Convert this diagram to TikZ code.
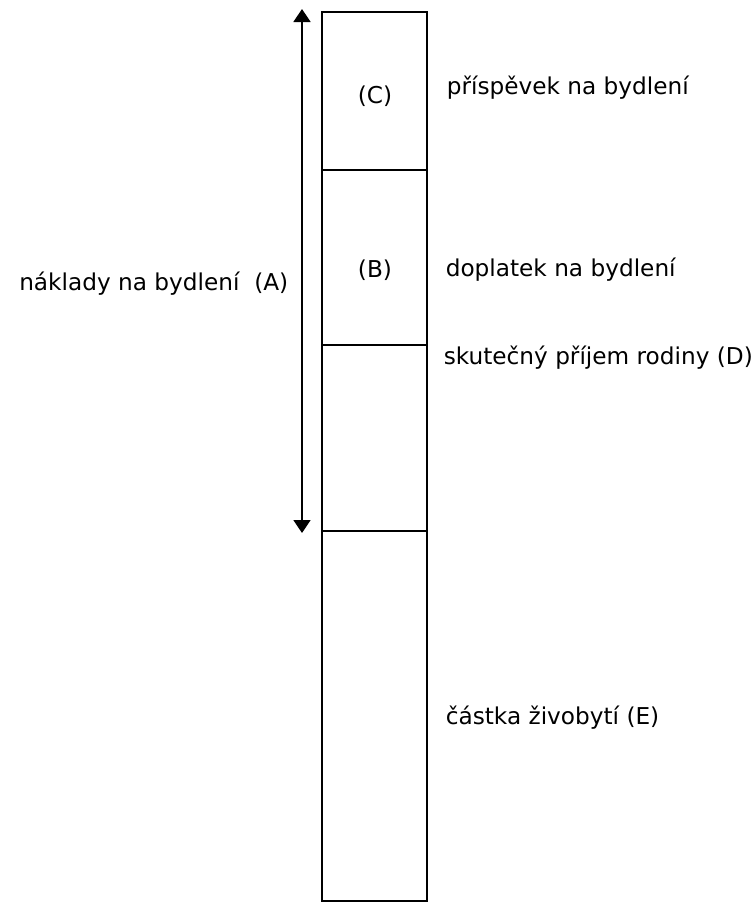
\documentclass[tikz,border=0pt]{standalone}
\usepackage{fontspec}
\setmainfont{DejaVu Sans}
\usetikzlibrary{arrows.meta}

\begin{document}
\begin{tikzpicture}[x=1pt,y=-1pt,line width=1.6pt,>={Triangle[width=17pt,length=13pt]},
    lbl/.style={anchor=west,inner sep=0pt,font=\fontsize{23.2}{27}\selectfont}]
        \useasboundingbox (0,0) rectangle (755,903);

        % Bar
        \draw (322,12) rectangle (427,901);
        \draw (322,170) -- (427,170);
        \draw (322,345) -- (427,345);
        \draw (322,531) -- (427,531);

        % Arrow for (A)
        \coordinate (atop) at (302,9);
        \coordinate (abot) at (302,533);
        \draw[<->] (atop) -- (abot);

        % Labels
        \node[lbl,anchor=center] (c) at (375,96) {(C)};
        \node[lbl,anchor=center] (b) at (375,270) {(B)};
        \node[lbl,anchor=east] (a) at (289,284) {náklady na bydlení\ \ (A)};
        \node[lbl] (c1) at (446,88) {příspěvek na bydlení};
        \node[lbl] (b1) at (445,270) {doplatek na bydlení};
        \node[lbl] (d1) at (443,358) {skutečný příjem rodiny (D)};
        \node[lbl] (e1) at (445,718) {částka živobytí (E)};
      \end{tikzpicture}
\end{document}
